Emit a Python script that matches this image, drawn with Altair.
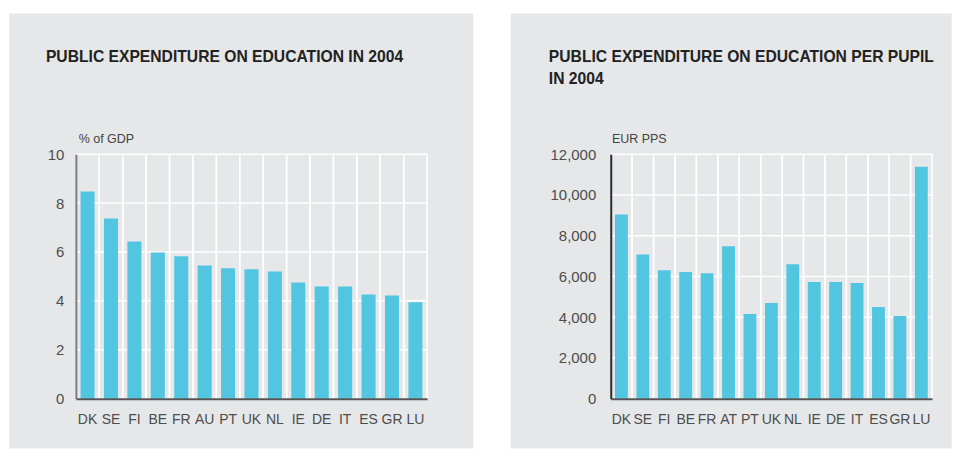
import altair as alt
import pandas as pd

# ---- data ----
cats_left = ["DK", "SE", "FI", "BE", "FR", "AU", "PT", "UK", "NL", "IE", "DE", "IT", "ES", "GR", "LU"]
gdp_share = [8.47, 7.37, 6.43, 5.98, 5.82, 5.45, 5.33, 5.29, 5.20, 4.75, 4.59, 4.59, 4.26, 4.22, 3.94]
ticks_left = [0, 2, 4, 6, 8, 10]

cats_right = ["DK", "SE", "FI", "BE", "FR", "AT", "PT", "UK", "NL", "IE", "DE", "IT", "ES", "GR", "LU"]
per_pupil = [9040, 7080, 6300, 6220, 6160, 7480, 4150, 4690, 6600, 5720, 5720, 5680, 4500, 4060, 11380]
ticks_right = [0, 2000, 4000, 6000, 8000, 10000, 12000]

title_left = "PUBLIC EXPENDITURE ON EDUCATION IN 2004"
title_right = "PUBLIC EXPENDITURE ON EDUCATION PER PUPIL\nIN 2004"
unit_left = "% of GDP"
unit_right = "EUR PPS"

FONT = "Liberation Sans"
BG = "#e6e7e9"
BAR = "#52c6e0"
LABEL = "#4d4d4d"


def panel(cats, vals, ticks, ymax, width, height, title, unit, fmt,
          bg_box, title_pos, unit_pos, ylab_pad, ydomain_color):
    bars_df = pd.DataFrame({"cat": cats, "val": vals})
    ticks_df = pd.DataFrame({"val": ticks})
    title_df = pd.DataFrame({"t": [title]})
    one = pd.DataFrame({"k": [0]})

    xscale = alt.Scale(paddingInner=0, paddingOuter=0)
    yscale = alt.Scale(domain=[0, ymax], nice=False)

    xaxis = alt.Axis(title=None, labelAngle=0, ticks=False, grid=False,
                     labelFont=FONT, labelFontSize=14, labelColor=LABEL,
                     labelPadding=14, domainColor="#555555", domainWidth=2,
                     zindex=1)
    yaxis = alt.Axis(values=ticks, format=fmt, ticks=False, grid=False,
                     labelFont=FONT, labelFontSize=15, labelColor=LABEL,
                     labelPadding=ylab_pad, domainColor=ydomain_color,
                     domainWidth=2, zindex=1,
                     title=unit, titleAngle=0, titleAlign="left",
                     titleBaseline="alphabetic", titleX=unit_pos[0],
                     titleY=unit_pos[1], titleFont=FONT, titleFontSize=12.5,
                     titleFontWeight="normal", titleColor="#444444")

    bg = alt.Chart(one).mark_rect(color=BG).encode(
        x=alt.value(bg_box[0]), x2=alt.value(bg_box[1]),
        y=alt.value(bg_box[2]), y2=alt.value(bg_box[3]),
    )

    hgrid = alt.Chart(ticks_df).mark_rule(color="white", strokeWidth=1.5).encode(
        y=alt.Y("val:Q", scale=yscale, axis=yaxis)
    )
    vgrid0 = alt.Chart(bars_df).mark_rule(color="white", strokeWidth=1.5).encode(
        x=alt.X("cat:N", sort=cats, scale=xscale, bandPosition=0, axis=xaxis)
    )
    vgrid1 = alt.Chart(bars_df).mark_rule(color="white", strokeWidth=1.5).encode(
        x=alt.X("cat:N", sort=cats, scale=xscale, bandPosition=1, axis=xaxis)
    )

    bars = alt.Chart(bars_df).mark_bar(color=BAR, width=alt.RelativeBandSize(0.6)).encode(
        x=alt.X("cat:N", sort=cats, scale=xscale, axis=xaxis),
        y=alt.Y("val:Q", scale=yscale, axis=yaxis),
    )

    ttl = alt.Chart(title_df).mark_text(
        align="left", baseline="alphabetic", font=FONT, fontSize=15.7,
        fontWeight="bold", color="#222222", lineBreak="\n", lineHeight=22,
    ).encode(x=alt.value(title_pos[0]), y=alt.value(title_pos[1]), text="t:N")

    return alt.layer(bg, hgrid, vgrid0, vgrid1, bars, ttl).properties(
        width=width, height=height
    )


left = panel(cats_left, gdp_share, ticks_left, 10, 352, 245, title_left, unit_left, "d",
             bg_box=(-66.7, 398.3, -141, 295), title_pos=(-30, -92),
             unit_pos=(2.3, -11.5), ylab_pad=12, ydomain_color="#7a7a7a")

right = panel(cats_right, per_pupil, ticks_right, 12000, 322, 245, title_right, unit_right, ",d",
              bg_box=(-100.3, 341.7, -141, 295), title_pos=(-62, -92),
              unit_pos=(0.7, -11.5), ylab_pad=15, ydomain_color="#2a2a2a")

chart = alt.hconcat(left, right, spacing=36).properties(
    padding={"left": 1, "top": 5, "right": 0, "bottom": 0},
    background="white",
).configure_view(strokeWidth=0)

chart.save("out.html", embed_options={"renderer": "svg", "actions": False})
